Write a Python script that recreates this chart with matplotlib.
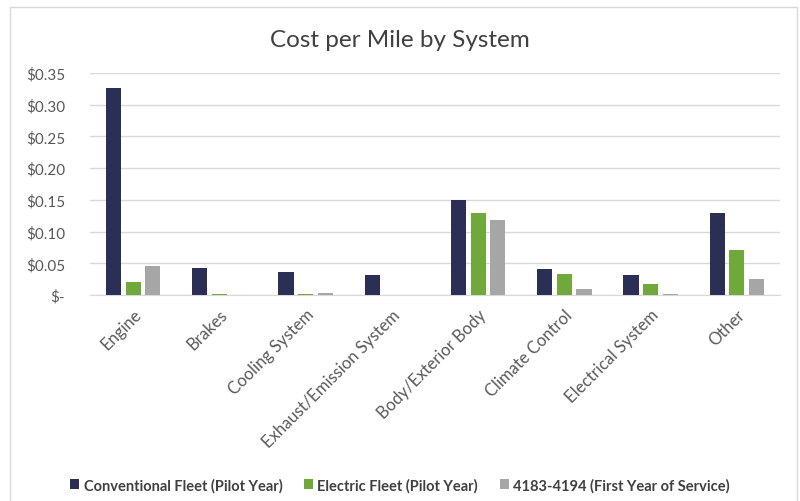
import numpy as np
import matplotlib.pyplot as plt
from matplotlib.patches import Rectangle
from matplotlib.ticker import FuncFormatter

plt.rcParams['font.family'] = ['Lato', 'DejaVu Sans']

systems = ['Engine', 'Brakes', 'Cooling System', 'Exhaust/Emission System',
           'Body/Exterior Body', 'Climate Control', 'Electrical System', 'Other']
conventional = [0.326, 0.042, 0.036, 0.032, 0.149, 0.041, 0.032, 0.129]
electric = [0.021, 0.001, 0.001, 0.0, 0.130, 0.033, 0.017, 0.071]
first_year = [0.045, 0.0, 0.003, 0.0, 0.118, 0.009, 0.001, 0.025]
series_names = ['Conventional Fleet (Pilot Year)', 'Electric Fleet (Pilot Year)',
                '4183-4194 (First Year of Service)']
colors = ['#2b2f55', '#70a83b', '#a6a6a6']

fig = plt.figure(figsize=(8, 5.02), dpi=100)
ax = fig.add_axes([0.1125, 0.4104, 0.8625, 0.4422])

# chart frame
fig.patches.append(Rectangle((0.0125, -0.01), 0.984, 0.995, transform=fig.transFigure,
                             fill=False, edgecolor='#d9d9d9', linewidth=1.0))

x = np.arange(len(systems))
w = 0.175
step = 0.227
for i, (vals, c, name) in enumerate(zip([conventional, electric, first_year], colors, series_names)):
    ax.bar(x + (i - 1) * step, vals, w, color=c, label=name, zorder=3)

ax.set_xlim(-0.5, len(systems) - 0.5)
ax.set_ylim(0, 0.35)
ax.set_yticks(np.arange(0, 0.351, 0.05))
ax.yaxis.set_major_formatter(FuncFormatter(lambda v, p: '$-' if abs(v) < 1e-9 else f'${v:.2f}'))
ax.grid(axis='y', color='#d9d9d9', linewidth=1.0, zorder=0)
for s in ['top', 'right', 'left']:
    ax.spines[s].set_visible(False)
ax.spines['bottom'].set_color('#d9d9d9')
ax.tick_params(axis='both', length=0, colors='#595959', labelsize=11)
ax.tick_params(axis='y', pad=18)
ax.set_xticks(x)
ax.set_xticklabels(systems, rotation=45, ha='right', rotation_mode='anchor', fontsize=12)
ax.tick_params(axis='x', pad=8)

fig.text(0.5, 0.92, 'Cost per Mile by System', ha='center', va='center',
         fontsize=17.5, color='#404040')

fig.legend(loc='center', bbox_to_anchor=(0.5, 0.032), ncol=3, frameon=False,
           prop={'size': 10.5, 'weight': 'bold'}, handlelength=0.6, handleheight=0.6,
           handletextpad=0.3, columnspacing=1.5, labelcolor='#404040')

fig.savefig('out.png', dpi=100)
